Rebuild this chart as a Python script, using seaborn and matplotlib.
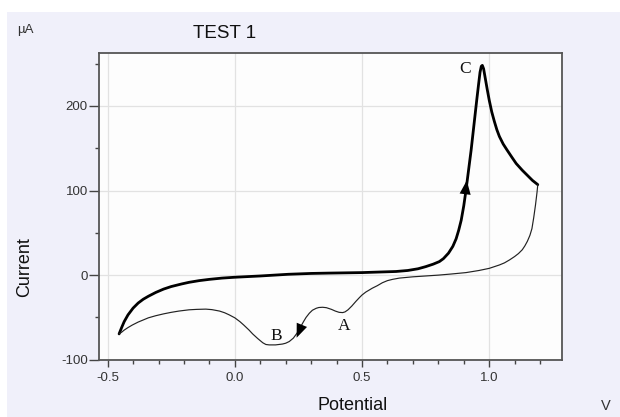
import numpy as np
import pandas as pd
import matplotlib
matplotlib.use("Agg")
import matplotlib.pyplot as plt
from matplotlib.ticker import MultipleLocator, FixedLocator
from matplotlib.patches import Rectangle
import seaborn as sns

# ---- data ----
fwd_potential = [-0.455, -0.445, -0.435, -0.42, -0.40, -0.38, -0.36, -0.34, -0.311, -0.28,
                 -0.25, -0.21, -0.18, -0.14, -0.10, -0.05, 0.0, 0.10, 0.21, 0.30,
                 0.371, 0.50, 0.634, 0.68, 0.72, 0.75, 0.78, 0.804, 0.82, 0.84,
                 0.857, 0.87, 0.88, 0.89, 0.90, 0.909, 0.929, 0.951, 0.958, 0.964,
                 0.969, 0.973, 0.978, 0.985, 0.992, 1.00, 1.01, 1.02, 1.03, 1.04,
                 1.055, 1.07, 1.09, 1.106, 1.13, 1.15, 1.17, 1.191]
fwd_current = [-69.5, -62, -55, -47, -39, -33, -28.5, -25, -20.5, -16.5,
               -13.5, -10.5, -8.5, -6.5, -5, -3.5, -2.5, -1, 1, 2,
               2.4, 3, 4.3, 5.5, 7.5, 10, 13, 16, 19.5, 26,
               34, 43, 53, 65, 82, 101, 148, 207, 225, 240,
               247, 248, 244, 232, 220, 207, 193, 182, 172, 164,
               155, 148, 139, 132, 124, 118, 112, 107]

rev_potential = [1.191, 1.188, 1.182, 1.175, 1.168, 1.16, 1.15, 1.14, 1.13, 1.115,
                 1.10, 1.08, 1.06, 1.04, 1.02, 1.00, 0.96, 0.909, 0.85, 0.80,
                 0.75, 0.70, 0.647, 0.62, 0.60, 0.58, 0.56, 0.54, 0.529, 0.515,
                 0.50, 0.49, 0.476, 0.46, 0.445, 0.433, 0.424, 0.41, 0.395, 0.38,
                 0.36, 0.345, 0.33, 0.32, 0.305, 0.293, 0.28, 0.27, 0.258, 0.246,
                 0.23, 0.214, 0.20, 0.187, 0.16, 0.135, 0.122, 0.11, 0.09, 0.07,
                 0.056, 0.035, 0.02, 0.0, -0.022, -0.04, -0.06, -0.09, -0.114, -0.15,
                 -0.18, -0.22, -0.25, -0.28, -0.311, -0.34, -0.36, -0.38, -0.403, -0.42,
                 -0.435, -0.445, -0.455]
rev_current = [107, 98, 83, 68, 55, 47, 40, 34.5, 30, 25.5,
               22, 18, 14.5, 12, 10, 8, 5.5, 3, 1.3, 0,
               -1, -2, -3.5, -5, -6.5, -9, -12.5, -15.5, -17.5, -20,
               -23.5, -26.5, -31, -36.5, -41, -43.5, -44.3, -44, -42.5, -40.5,
               -38.5, -38, -38.3, -39.2, -41.5, -45, -50, -55, -61.5, -68,
               -74.5, -78.5, -80.5, -81.5, -82.5, -82.5, -82, -80, -75, -69.5,
               -65, -59, -55, -50.5, -47, -44.5, -42.5, -40.8, -40.2, -40.5,
               -41, -42.5, -44, -45.8, -48, -50.5, -53, -55.5, -59, -62,
               -65, -67.5, -69.5]

# arrows along the scan: (start, end) pairs
arrow_tail_x = [0.899, 0.266]
arrow_tail_y = [80, -57]
arrow_head_x = [0.912, 0.243]
arrow_head_y = [112, -74]

peak_labels = ["A", "B", "C"]
peak_label_x = [0.43, 0.161, 0.905]
peak_label_y = [-60, -72, 244]

x_major = [-0.5, 0.0, 0.5, 1.0]
x_labels = ["-0.5", "0.0", "0.5", "1.0"]
y_major = [-100, 0, 100, 200]
y_labels = ["-100", "0", "100", "200"]

df = pd.concat([
    pd.DataFrame({"Potential": fwd_potential, "Current": fwd_current, "scan": "forward"}),
    pd.DataFrame({"Potential": rev_potential, "Current": rev_current, "scan": "reverse"}),
], ignore_index=True)

sns.set_style("white")
plt.rcParams["font.family"] = ["Liberation Sans", "DejaVu Sans"]

BG = "#F0F0FA"
fig = plt.figure(figsize=(6.2, 4.17), dpi=100, facecolor="white")
fig.patches.append(Rectangle((7 / 620, 0), 1 - 7 / 620, 1 - 12 / 417,
                             transform=fig.transFigure, facecolor=BG,
                             edgecolor="none", zorder=-10))
ax = fig.add_axes([99 / 620, 1 - 359.7 / 417, (561.7 - 99) / 620, (359.7 - 52.7) / 417])
ax.set_facecolor("#FDFDFD")

sns.lineplot(data=df[df.scan == "forward"], x="Potential", y="Current", sort=False,
             estimator=None, color="black", linewidth=2.0, ax=ax)
sns.lineplot(data=df[df.scan == "reverse"], x="Potential", y="Current", sort=False,
             estimator=None, color="#222222", linewidth=0.85, ax=ax)

for tx, ty, hx, hy in zip(arrow_tail_x, arrow_tail_y, arrow_head_x, arrow_head_y):
    ax.annotate("", xy=(hx, hy), xytext=(tx, ty),
                arrowprops=dict(arrowstyle="-|>,head_length=1.0,head_width=0.4",
                                color="black", lw=0.0, shrinkA=0, shrinkB=0))

for lab, lx, ly in zip(peak_labels, peak_label_x, peak_label_y):
    ax.text(lx, ly, lab, family="Liberation Serif", fontsize=12.5,
            ha="center", va="center", color="#111111")

ax.set_xlim(-0.534, 1.285)
ax.set_ylim(-100, 263)
ax.xaxis.set_major_locator(FixedLocator(x_major))
ax.set_xticklabels(x_labels)
ax.yaxis.set_major_locator(FixedLocator(y_major))
ax.set_yticklabels(y_labels)
ax.xaxis.set_minor_locator(MultipleLocator(0.1))
ax.yaxis.set_minor_locator(MultipleLocator(50))
ax.tick_params(axis="x", which="major", direction="out", length=5, width=1,
               color="#444444", labelsize=9.5, labelcolor="#333333", pad=4, bottom=True)
ax.tick_params(axis="x", which="minor", direction="out", length=3, width=1,
               color="#444444", bottom=True)
ax.tick_params(axis="y", which="major", direction="out", length=7, width=1,
               color="#444444", labelsize=9.5, labelcolor="#333333", pad=1, left=True)
ax.tick_params(axis="y", which="minor", direction="out", length=3, width=1,
               color="#444444", left=True)
ax.grid(True, which="major", color="#E2E2E2", linewidth=0.9)
ax.set_axisbelow(True)
for s in ax.spines.values():
    s.set_visible(True)
    s.set_color("#555555")
    s.set_linewidth(1.3)
ax.set_xlabel("")
ax.set_ylabel("")

fig.text(225 / 620, 1 - 33 / 417, "TEST 1", fontsize=13.5, ha="center", va="center",
         color="#111111")
fig.text(25 / 620, 1 - 30 / 417, "µA", fontsize=9.5, ha="center", va="center",
         color="#333333")
fig.text(25 / 620, 1 - 267 / 417, "Current", fontsize=13, rotation=90,
         ha="center", va="center", color="#111111")
fig.text(352.7 / 620, 1 - 406 / 417, "Potential", fontsize=13, ha="center",
         va="center", color="#111111")
fig.text(605.7 / 620, 1 - 406 / 417, "V", fontsize=10.5, ha="center", va="center",
         color="#333333")

fig.savefig("out.png", dpi=100, facecolor=fig.get_facecolor())
